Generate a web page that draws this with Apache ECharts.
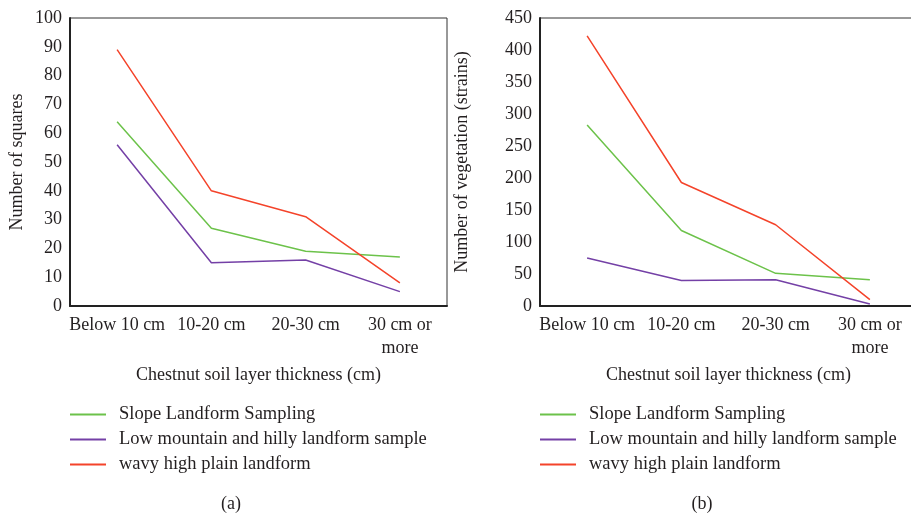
<!DOCTYPE html>
<html>
<head>
<meta charset="utf-8">
<script src="https://cdn.jsdelivr.net/npm/echarts@6/dist/echarts.min.js"></script>
<style>
  html, body { margin: 0; padding: 0; background: #fff; overflow: hidden; }
  /* a bit wider than the window: panel (b) runs past the right edge like the reference */
  #chart { width: 917px; height: 514px; }
</style>
</head>
<body>
<div id="chart"></div>
<script>
// categories shared by both panels
const categories = ['Below 10 cm', '10-20 cm', '20-30 cm', '30 cm or\nmore']
const seriesNames = ['Slope Landform Sampling', 'Low mountain and hilly landform sample', 'wavy high plain landform']

// (a) number of squares
const squaresSlope = [64, 27, 19, 17]
const squaresLowMountain = [56, 15, 16, 5]
const squaresWavy = [89, 40, 31, 8]

// (b) number of vegetation (strains)
const vegSlope = [283, 118, 51, 41]
const vegLowMountain = [75, 40, 41, 3]
const vegWavy = [422, 193, 127, 10]

const colors = ['#6cc24a', '#7440a6', '#f4432a']
const font = 'Liberation Serif'
const fs = 18
const textColor = '#231f20'

function makeLine (name, idx, data, color) {
  return {
    name: name,
    type: 'line',
    xAxisIndex: idx,
    yAxisIndex: idx,
    data: data,
    symbol: 'none',
    lineStyle: { color: color, width: 1.5 },
    itemStyle: { color: color }
  }
}

function xAxisOf (idx) {
  return {
    type: 'category',
    gridIndex: idx,
    data: categories,
    boundaryGap: true,
    axisTick: { show: false },
    axisLine: { lineStyle: { color: '#222', width: 2 } },
    axisLabel: { interval: 0, margin: 8, fontFamily: font, fontSize: fs, color: textColor, lineHeight: 23 },
    name: 'Chestnut soil layer thickness (cm)',
    nameLocation: 'middle',
    nameGap: 60,
    nameTextStyle: { fontFamily: font, fontSize: fs, color: textColor }
  }
}

function yAxisOf (idx, max, interval, name, gap) {
  return {
    type: 'value',
    gridIndex: idx,
    min: 0,
    max: max,
    interval: interval,
    splitLine: { show: false },
    axisTick: { show: false },
    axisLine: { show: true, lineStyle: { color: '#222', width: 2 } },
    axisLabel: { margin: 8, fontFamily: font, fontSize: fs, color: textColor },
    name: name,
    nameLocation: 'middle',
    nameGap: gap,
    nameTextStyle: { fontFamily: font, fontSize: fs, color: textColor }
  }
}

function legendOf (left) {
  return {
    left: left,
    top: 400,
    orient: 'vertical',
    icon: 'rect',
    itemWidth: 36,
    itemHeight: 2,
    itemGap: 6,
    data: seriesNames,
    textStyle: { fontFamily: font, fontSize: 18.5, color: textColor, lineHeight: 18, padding: [0, 0, 0, 8] }
  }
}

const chart = echarts.init(document.getElementById('chart'))
chart.setOption({
  animation: false,
  color: colors,
  title: [
    { text: '(a)', left: 226, top: 490, textAlign: 'center', textStyle: { fontFamily: font, fontSize: fs, fontWeight: 'normal', color: textColor } },
    { text: '(b)', left: 697, top: 490, textAlign: 'center', textStyle: { fontFamily: font, fontSize: fs, fontWeight: 'normal', color: textColor } }
  ],
  legend: [legendOf(65), legendOf(535)],
  grid: [
    { left: 70, top: 18, width: 377, height: 288, show: true, borderColor: '#333', borderWidth: 1 },
    { left: 540, top: 18, width: 377, height: 288, show: true, borderColor: '#333', borderWidth: 1 }
  ],
  xAxis: [xAxisOf(0), xAxisOf(1)],
  yAxis: [
    yAxisOf(0, 100, 10, 'Number of squares', 44),
    yAxisOf(1, 450, 50, 'Number of vegetation (strains)', 69)
  ],
  series: [
    makeLine(seriesNames[0], 0, squaresSlope, colors[0]),
    makeLine(seriesNames[1], 0, squaresLowMountain, colors[1]),
    makeLine(seriesNames[2], 0, squaresWavy, colors[2]),
    makeLine(seriesNames[0], 1, vegSlope, colors[0]),
    makeLine(seriesNames[1], 1, vegLowMountain, colors[1]),
    makeLine(seriesNames[2], 1, vegWavy, colors[2])
  ]
})
</script>
</body>
</html>
